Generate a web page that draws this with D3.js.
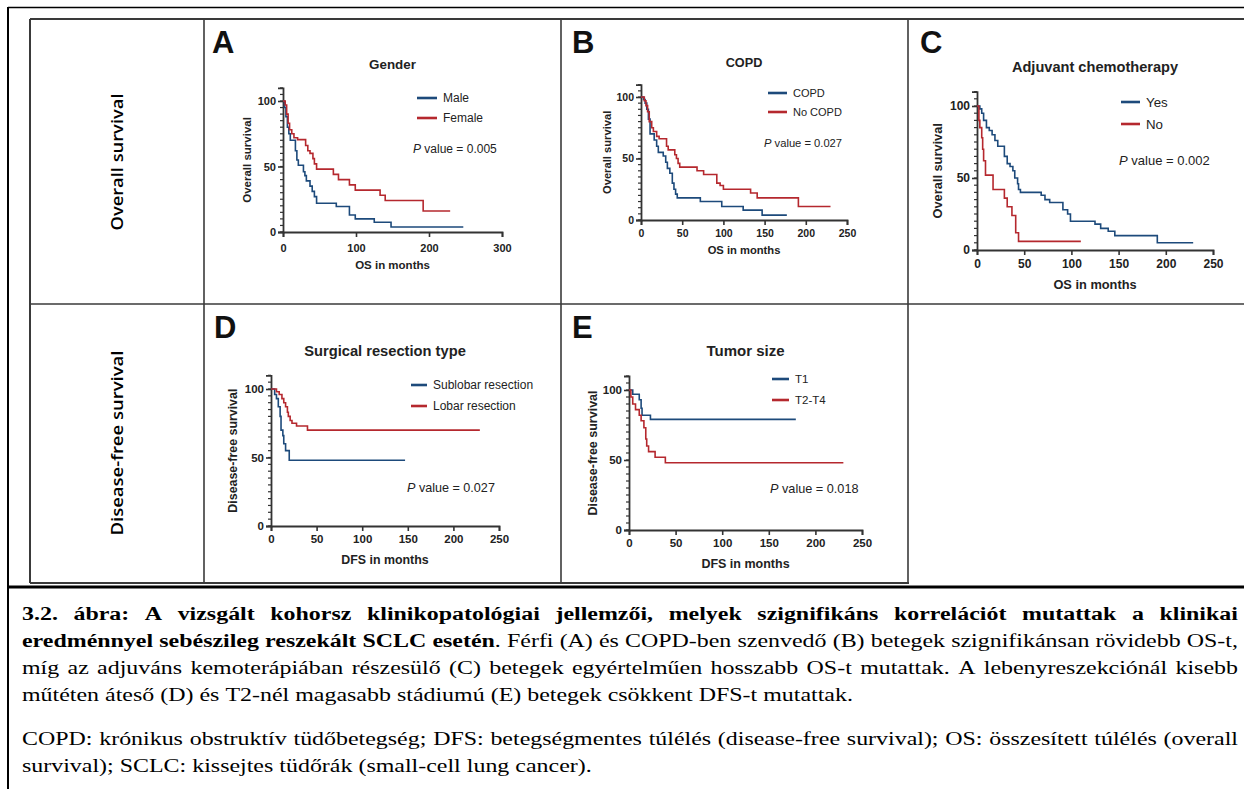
<!DOCTYPE html>
<html>
<head>
<meta charset="utf-8">
<script src="https://cdn.jsdelivr.net/npm/d3@7"></script>
<style>
  html, body { margin: 0; padding: 0; background: #fff; }
  svg { display: block; }
</style>
</head>
<body>
<svg id="fig" width="1244" height="789"></svg>
<script>
// ---- Kaplan–Meier step data (time in months, survival in %) ----
// Panel A: gender
const maleTimes   = [0, 2, 4, 6, 8, 10, 17, 19, 21, 28, 30, 32, 37, 40, 43, 46, 73, 91, 99, 125, 148, 247];
const maleSurv    = [100, 95, 88, 80, 75, 70, 62, 55, 51, 46, 43, 39, 35, 31, 27, 22, 19.5, 13, 10, 7.4, 3.8, 3.8];
const femaleTimes = [0, 3, 5, 7, 9, 12, 15, 20, 31, 34, 37, 41, 43, 46, 69, 76, 91, 99, 133, 140, 192, 229];
const femaleSurv  = [100, 97, 90, 83, 78, 75, 72, 70.5, 66, 62, 60, 56, 52, 48, 44, 40, 36, 32, 28, 24, 16, 16];
// Panel B: COPD
const copdTimes   = [0, 3, 5, 7, 9, 11, 16, 19, 21, 27, 30, 32, 35, 38, 40, 42, 44, 72, 98, 124, 147, 177];
const copdSurv    = [100, 98, 95, 90, 82, 70, 65, 60, 55, 52, 47, 42, 38, 30, 25, 21, 18, 15, 11, 8, 4, 4];
const noCopdTimes = [0, 4, 6, 8, 10, 13, 15, 19, 22, 31, 33, 41, 43, 45, 47, 68, 76, 92, 96, 100, 133, 141, 191, 230];
const noCopdSurv  = [100, 97, 93, 88, 80, 75, 72, 68, 66, 60, 57, 53, 50, 46, 43, 40, 37, 30, 28, 25, 22, 18, 11, 11];
// Panel C: adjuvant chemotherapy
const chemoYesTimes = [0, 3, 5, 7, 10, 13, 16, 19, 22, 29, 32, 35, 38, 40, 43, 44, 46, 68, 72, 77, 91, 96, 99, 125, 131, 139, 146, 191, 229];
const chemoYesSurv  = [100, 98, 95, 90, 85, 83, 80, 76, 72, 65, 60, 58, 55, 50, 46, 42, 40, 38, 35, 33, 28, 25, 20, 18, 15, 13, 10, 5, 5];
const chemoNoTimes  = [0, 2, 3, 5, 6, 7, 9, 17, 29, 32, 37, 41, 44, 110];
const chemoNoSurv   = [100, 90, 85, 78, 70, 62, 52, 42, 36, 30, 24, 12, 6, 6];
// Panel D: surgical resection type
const sublobarTimes = [0, 4, 6, 8, 10, 11, 13, 14, 16, 20, 147];
const sublobarSurv  = [100, 96, 93, 87, 80, 70, 66, 60, 55, 48, 48];
const lobarTimes    = [0, 6, 9, 12, 14, 16, 18, 19, 21, 23, 28, 40, 229];
const lobarSurv     = [100, 98, 96, 93, 90, 87, 83, 80, 77, 75, 73, 70, 70];
// Panel E: tumour size
const t1Times   = [0, 4, 11, 13, 14, 23, 179];
const t1Surv    = [100, 97, 93, 87, 82, 79, 79];
const t2t4Times = [0, 2, 4, 7, 11, 13, 16, 18, 19, 21, 28, 39, 230];
const t2t4Surv  = [100, 95, 90, 86, 82, 78, 73, 65, 60, 56, 52, 48, 48];

// ---- axis ticks ----
const yTicks     = [0, 50, 100];
const xTicksA    = [0, 100, 200, 300];
const xTicks250  = [0, 50, 100, 150, 200, 250];

// ---- labels ----
const panelLetters = ["A", "B", "C", "D", "E"];
const panelTitles  = ["Gender", "COPD", "Adjuvant chemotherapy", "Surgical resection type", "Tumor size"];
const xAxisLabels  = ["OS in months", "OS in months", "OS in months", "DFS in months", "DFS in months"];
const yAxisLabels  = ["Overall survival", "Overall survival", "Overall survival", "Disease-free survival", "Disease-free survival"];
const legendNames  = [["Male", "Female"], ["COPD", "No COPD"], ["Yes", "No"], ["Sublobar resection", "Lobar resection"], ["T1", "T2-T4"]];
const pValues      = ["0.005", "0.027", "0.002", "0.027", "0.018"];
const rowLabels    = ["Overall survival", "Disease-free survival"];

const captionLines = [
  { runs: [["3.2. ábra: A vizsgált kohorsz klinikopatológiai jellemzői, melyek szignifikáns korrelációt mutattak a klinikai", true]], justify: true },
  { runs: [["eredménnyel sebészileg reszekált SCLC esetén", true], [". Férfi (A) és COPD-ben szenvedő (B) betegek szignifikánsan rövidebb OS-t,", false]], justify: true },
  { runs: [["míg az adjuváns kemoterápiában részesülő (C) betegek egyértelműen hosszabb OS-t mutattak. A lebenyreszekciónál kisebb", false]], justify: true },
  { runs: [["műtéten áteső (D) és T2-nél magasabb stádiumú (E) betegek csökkent DFS-t mutattak.", false]], justify: false },
  { runs: [["COPD: krónikus obstruktív tüdőbetegség; DFS: betegségmentes túlélés (disease-free survival); OS: összesített túlélés (overall", false]], justify: true },
  { runs: [["survival); SCLC: kissejtes tüdőrák (small-cell lung cancer).", false]], justify: false }
];

// ---- styling / layout ----
const BLUE = "#1d4a7b";
const RED  = "#b5282e";
const SANS = "'Liberation Sans', Arial, sans-serif";

const curves = [
  [[maleTimes, maleSurv, BLUE], [femaleTimes, femaleSurv, RED]],
  [[copdTimes, copdSurv, BLUE], [noCopdTimes, noCopdSurv, RED]],
  [[chemoYesTimes, chemoYesSurv, BLUE], [chemoNoTimes, chemoNoSurv, RED]],
  [[sublobarTimes, sublobarSurv, BLUE], [lobarTimes, lobarSurv, RED]],
  [[t1Times, t1Surv, BLUE], [t2t4Times, t2t4Surv, RED]]
];
const xTickSets = [xTicksA, xTicks250, xTicks250, xTicks250, xTicks250];

// plot frames: x-range of the axis, pixel of y=0 and y=100, plus text placement
const layouts = [
  { x0: 283, x1: 502, y0: 232, y100: 101, letter: [212, 53], titleY: 69, yLabX: 247, xLabY: 269, leg: [417, 98, 20, 20], pAt: [413, 153],
    fs: { title: 13.4, lab: 11.5, tick: 11, leg: 12, p: 12 }, tickPad: 7 },
  { x0: 641, x1: 847, y0: 220, y100: 97, letter: [572, 53], titleY: 67, yLabX: 607, xLabY: 254, leg: [768, 93, 19, 19], pAt: [764, 147],
    fs: { title: 12.7, lab: 11.2, tick: 10.5, leg: 11, p: 11.2 }, tickPad: 5 },
  { x0: 977, x1: 1213, y0: 250, y100: 106, letter: [920, 53], titleY: 72, yLabX: 938, xLabY: 289, leg: [1121, 102, 22, 19], pAt: [1119, 165],
    fs: { title: 14.6, lab: 12.8, tick: 12, leg: 13.3, p: 13 }, tickPad: 4 },
  { x0: 271, x1: 499, y0: 526, y100: 389, letter: [214, 338], titleY: 356, yLabX: 233, xLabY: 564, leg: [411, 385, 21, 16], pAt: [407, 492],
    fs: { title: 14.7, lab: 12.4, tick: 11.5, leg: 12, p: 12.6 }, tickPad: 4 },
  { x0: 629, x1: 862, y0: 530, y100: 390, letter: [572, 338], titleY: 356, yLabX: 593, xLabY: 568, leg: [772, 379, 21, 17], pAt: [770, 493],
    fs: { title: 15, lab: 12.5, tick: 11.5, leg: 11.5, p: 12.7 }, tickPad: 4 }
];

const svg = d3.select("#fig");
svg.append("rect").attr("width", 1244).attr("height", 789).attr("fill", "#fff");

// ---- outer frame and table grid ----
const frame = svg.append("g").attr("fill", "none");
frame.append("line").attr("x1", 8).attr("x2", 1244).attr("y1", 7.5).attr("y2", 7.5).attr("stroke", "#000").attr("stroke-width", 1.5);
frame.append("line").attr("x1", 8).attr("x2", 8).attr("y1", 7).attr("y2", 789).attr("stroke", "#000").attr("stroke-width", 2);
frame.append("line").attr("x1", 8).attr("x2", 1244).attr("y1", 587).attr("y2", 587).attr("stroke", "#000").attr("stroke-width", 3);

const grid = svg.append("g").attr("stroke", "#3a3a3a").attr("stroke-width", 2).attr("fill", "none");
grid.append("line").attr("x1", 30).attr("x2", 1244).attr("y1", 19).attr("y2", 19);
grid.append("line").attr("x1", 30).attr("x2", 1244).attr("y1", 304).attr("y2", 304).attr("stroke-width", 1.6);
grid.append("line").attr("x1", 30).attr("x2", 909).attr("y1", 583).attr("y2", 583);
[30, 204, 561, 908].forEach((x, i) =>
  grid.append("line").attr("x1", x).attr("x2", x).attr("y1", 19).attr("y2", 583).attr("stroke-width", i === 0 ? 2 : 1.6));

// row headings
const rowCentres = [162, 443];
const rowLengths = [137, 185];
rowLabels.forEach((t, i) => {
  svg.append("text")
    .attr("transform", `translate(118,${rowCentres[i]}) rotate(-90)`)
    .attr("text-anchor", "middle").attr("dy", "0.35em")
    .attr("font-family", "'Open Sans', 'Noto Sans', sans-serif").attr("font-size", 15.5).attr("font-weight", 600)
    .attr("textLength", rowLengths[i]).attr("lengthAdjust", "spacingAndGlyphs")
    .attr("fill", "#000").text(t);
});

// ---- survival panels ----
layouts.forEach((L, i) => {
  const g = svg.append("g").attr("font-family", SANS);
  const xMax = d3.max(xTickSets[i]);
  const x = d3.scaleLinear().domain([0, xMax]).range([L.x0, L.x1]);
  const y = d3.scaleLinear().domain([0, 110]).range([L.y0, L.y0 - 1.1 * (L.y0 - L.y100)]);

  // panel letter
  g.append("text").attr("x", L.letter[0]).attr("y", L.letter[1])
    .attr("font-size", 31).attr("font-weight", "bold").attr("fill", "#111").text(panelLetters[i]);
  // title
  g.append("text").attr("x", (L.x0 + L.x1) / 2).attr("y", L.titleY).attr("text-anchor", "middle")
    .attr("font-size", L.fs.title).attr("font-weight", "bold").attr("fill", "#222").text(panelTitles[i]);

  // minor ticks on the survival axis
  g.append("g").selectAll("line").data(d3.range(0, 111, 5)).join("line")
    .attr("x1", L.x0 - 3).attr("x2", L.x0).attr("y1", d => y(d)).attr("y2", d => y(d))
    .attr("stroke", "#333").attr("stroke-width", 1.2);

  const yAxis = g.append("g").attr("transform", `translate(${L.x0},0)`)
    .call(d3.axisLeft(y).tickValues(yTicks).tickSizeOuter(0).tickSize(5).tickPadding(2));
  const xAxis = g.append("g").attr("transform", `translate(0,${L.y0})`)
    .call(d3.axisBottom(x).tickValues(xTickSets[i]).tickSizeOuter(0).tickSize(5).tickPadding(L.tickPad));
  [yAxis, xAxis].forEach(a => {
    a.select(".domain").attr("stroke", "#333").attr("stroke-width", 1.8);
    a.selectAll(".tick line").attr("stroke", "#333").attr("stroke-width", 1.6);
    a.selectAll(".tick text").attr("font-family", SANS).attr("font-size", L.fs.tick)
      .attr("font-weight", "bold").attr("fill", "#222");
  });

  // axis titles
  g.append("text").attr("x", (L.x0 + L.x1) / 2).attr("y", L.xLabY).attr("text-anchor", "middle")
    .attr("font-size", L.fs.lab).attr("font-weight", "bold").attr("fill", "#222").text(xAxisLabels[i]);
  g.append("text").attr("transform", `translate(${L.yLabX},${(y(0) + y(110)) / 2}) rotate(-90)`)
    .attr("text-anchor", "middle").attr("dy", "0.35em")
    .attr("font-size", L.fs.lab).attr("font-weight", "bold").attr("fill", "#222").text(yAxisLabels[i]);

  // step curves
  const line = d3.line().x(d => x(d[0])).y(d => y(d[1])).curve(d3.curveStepAfter);
  curves[i].forEach(([times, surv, color]) => {
    const pts = times.map((t, k) => [t, surv[k]]);
    g.append("path").datum(pts).attr("d", line)
      .attr("fill", "none").attr("stroke", color).attr("stroke-width", 1.6).attr("stroke-linejoin", "miter");
  });

  // legend
  const [lx, ly, ldy, llen] = L.leg;
  legendNames[i].forEach((name, k) => {
    const yy = ly + k * ldy;
    g.append("line").attr("x1", lx).attr("x2", lx + llen).attr("y1", yy).attr("y2", yy)
      .attr("stroke", curves[i][k][2]).attr("stroke-width", 2.6);
    g.append("text").attr("x", lx + llen + 6).attr("y", yy).attr("dy", "0.35em")
      .attr("font-size", L.fs.leg).attr("fill", "#222").text(name);
  });

  // log-rank p value
  const pt = g.append("text").attr("x", L.pAt[0]).attr("y", L.pAt[1])
    .attr("font-size", L.fs.p).attr("fill", "#222");
  pt.append("tspan").attr("font-style", "italic").text("P");
  pt.append("tspan").text(" value = " + pValues[i]);
});

// ---- caption (justified Times-style paragraph) ----
const SERIF = "'Liberation Serif', 'Times New Roman', serif";
const capLeft = 22, capRight = 1238, capFs = 19;
const baselines = [620, 647, 674, 701, 745, 772];
const cap = svg.append("g").attr("font-family", SERIF).attr("font-size", capFs).attr("fill", "#000");

// split runs into words, keeping mixed bold/regular pieces inside one word
function toWords(runs) {
  const words = [];
  let cur = null;
  runs.forEach(([txt, bold]) => {
    const parts = txt.split(" ");
    parts.forEach((p, j) => {
      if (j > 0 || cur === null) { if (cur && cur.length) words.push(cur); cur = []; }
      if (p.length) cur.push([p, bold]);
    });
  });
  if (cur && cur.length) words.push(cur);
  return words;
}

const measure = cap.append("text").attr("x", -1000).attr("y", -1000);
function textWidth(s) {
  measure.text(s);
  return measure.node().getComputedTextLength();
}
function wordWidth(w) {
  measure.text("");
  w.forEach(([t, b]) => measure.append("tspan").attr("font-weight", b ? "bold" : "normal").text(t));
  return measure.node().getComputedTextLength();
}
const spaceW = textWidth("n n") - textWidth("nn");

// horizontal scale so the free-running lines keep the paragraph's width
const refWords = toWords(captionLines[3].runs);
const refNatural = d3.sum(refWords, wordWidth) + spaceW * (refWords.length - 1);
const sx = 831 / refNatural;
const inner = cap.append("g").attr("transform", `translate(${capLeft},0) scale(${sx},1)`);
const avail = (capRight - capLeft) / sx;

captionLines.forEach((ln, li) => {
  const words = toWords(ln.runs);
  const widths = words.map(wordWidth);
  const gap = ln.justify ? (avail - d3.sum(widths)) / (words.length - 1) : spaceW;
  let cx = 0;
  words.forEach((w, k) => {
    const t = inner.append("text").attr("x", cx).attr("y", baselines[li]);
    w.forEach(([s, b]) => t.append("tspan").attr("font-weight", b ? "bold" : "normal").text(s));
    cx += widths[k] + gap;
  });
});
measure.remove();
</script>
</body>
</html>
